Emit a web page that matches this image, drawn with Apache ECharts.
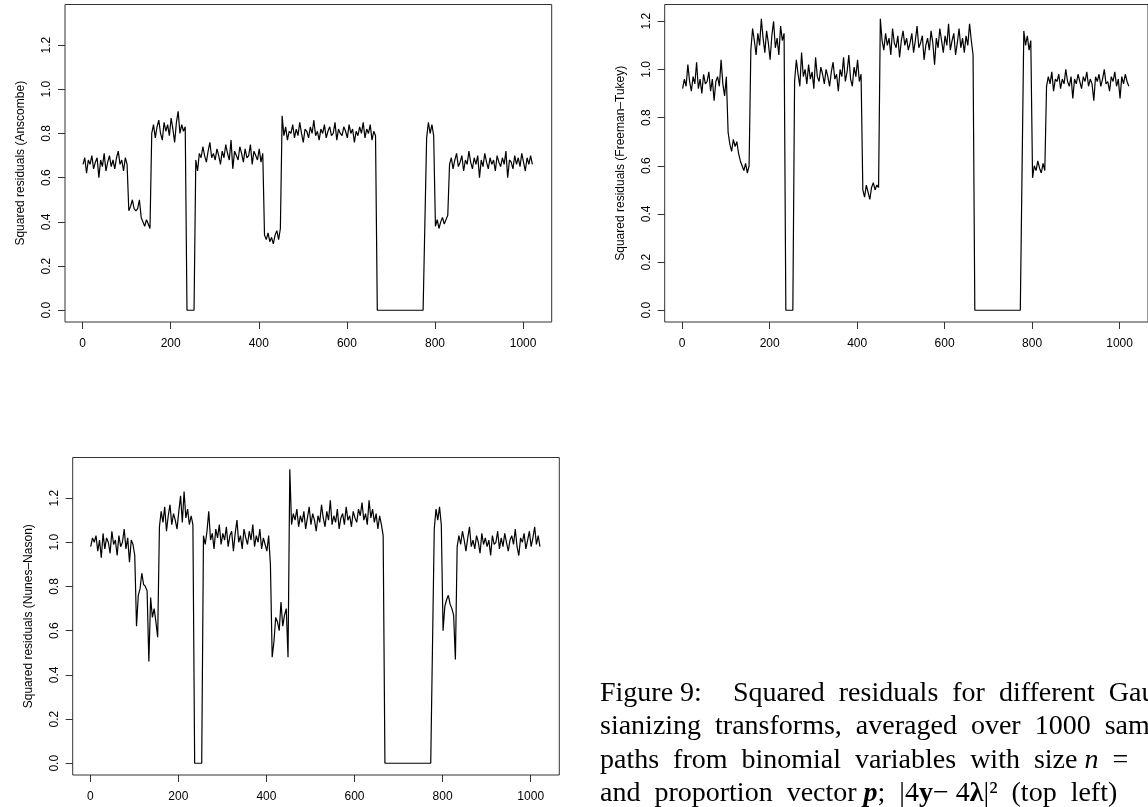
<!DOCTYPE html>
<html>
<head>
<meta charset="utf-8">
<script src="https://cdn.jsdelivr.net/npm/echarts@6/dist/echarts.min.js"></script>
<style>
html,body{margin:0;padding:0;background:#fff;}
#chart{width:1148px;height:807px;}
</style>
</head>
<body>
<div id="chart"></div>
<script>
// x position (sample index) where each segment of values starts; values are every 4th index
const segStarts = [1, 105, 133, 157, 237, 257, 413, 453, 669, 781, 801, 833];
const xTicks = [0, 200, 400, 600, 800, 1000];
const yTicks = [0, 0.2, 0.4, 0.6, 0.8, 1.0, 1.2];
const yTitles = ['Squared residuals (Anscombe)', 'Squared residuals (Freeman\u2013Tukey)', 'Squared residuals (Nunes\u2013Nason)'];

const anscombe = [
  [0.66,0.69,0.62,0.68,0.66,0.70,0.64,0.67,0.69,0.60,0.68,0.65,0.71,0.63,0.67,0.70,0.65,0.68,0.64,0.69,0.72,0.66,0.68,0.63,0.69,0.66],
  [0.45,0.47,0.50,0.46,0.45,0.46,0.50],
  [0.42,0.40,0.38,0.41,0.39,0.37],
  [0.80,0.84,0.78,0.83,0.86,0.80,0.77,0.85,0.81,0.84,0.79,0.87,0.82,0.76,0.85,0.90,0.80,0.84,0.81,0.83],
  [0,0,0,0,0],
  [0.68,0.63,0.71,0.69,0.74,0.70,0.67,0.72,0.76,0.69,0.71,0.68,0.73,0.70,0.66,0.72,0.69,0.75,0.71,0.68,0.77,0.64,0.72,0.70,0.68,0.74,0.71,0.67,0.73,0.69,0.70,0.75,0.66,0.72,0.70,0.68,0.73,0.67,0.71],
  [0.34,0.32,0.35,0.31,0.33,0.30,0.34,0.36,0.32,0.37],
  [0.88,0.79,0.83,0.77,0.81,0.80,0.84,0.78,0.82,0.79,0.85,0.80,0.76,0.82,0.81,0.78,0.83,0.80,0.86,0.79,0.81,0.77,0.82,0.80,0.84,0.78,0.81,0.83,0.79,0.80,0.85,0.77,0.82,0.80,0.79,0.83,0.81,0.78,0.84,0.80,0.82,0.76,0.81,0.79,0.83,0.80,0.85,0.78,0.82,0.80,0.84,0.77,0.81,0.79],
  [0,0,0,0,0,0,0,0,0,0,0,0,0,0,0,0,0,0,0,0,0,0,0,0,0,0,0,0],
  [0.78,0.85,0.80,0.84,0.79],
  [0.38,0.41,0.37,0.40,0.42,0.39,0.41,0.43],
  [0.66,0.69,0.64,0.68,0.71,0.65,0.67,0.70,0.63,0.68,0.66,0.72,0.67,0.64,0.69,0.66,0.70,0.60,0.68,0.65,0.71,0.67,0.64,0.69,0.66,0.68,0.63,0.70,0.67,0.65,0.69,0.66,0.72,0.60,0.68,0.67,0.64,0.70,0.66,0.69,0.65,0.71,0.67,0.63,0.69,0.66,0.70,0.66]
];

const freemanTukey = [
  [0.92,0.96,0.93,1.02,0.95,0.91,0.97,0.94,1.03,0.92,0.96,0.90,0.98,0.94,0.95,0.99,0.91,0.96,0.87,0.95,0.97,0.93,1.04,0.94,0.89,0.97],
  [0.74,0.69,0.66,0.71,0.68,0.70,0.65],
  [0.62,0.60,0.58,0.61,0.57,0.60],
  [1.08,1.17,1.12,1.06,1.15,1.10,1.21,1.13,1.07,1.16,1.11,1.04,1.14,1.20,1.09,1.13,1.06,1.18,1.12,1.15],
  [0,0,0,0,0],
  [0.95,1.04,0.98,0.93,1.07,0.97,1.00,0.94,1.02,0.96,0.99,0.92,1.05,0.97,0.95,1.01,0.98,0.94,1.00,0.97,0.93,0.99,1.03,0.96,0.98,0.91,1.00,0.97,1.05,0.95,0.99,1.06,0.96,0.93,1.01,0.97,1.04,0.95,0.98],
  [0.50,0.47,0.52,0.49,0.46,0.51,0.53,0.50,0.52,0.51],
  [1.21,1.12,1.08,1.15,1.10,1.13,1.06,1.17,1.11,1.09,1.14,1.05,1.12,1.16,1.10,1.13,1.08,1.11,1.15,1.07,1.12,1.18,1.09,1.11,1.14,1.04,1.10,1.13,1.08,1.16,1.11,1.02,1.13,1.09,1.17,1.12,1.07,1.14,1.10,1.19,1.08,1.12,1.15,1.06,1.11,1.17,1.09,1.13,1.07,1.14,1.10,1.19,1.12,1.06],
  [0,0,0,0,0,0,0,0,0,0,0,0,0,0,0,0,0,0,0,0,0,0,0,0,0,0,0,0],
  [1.16,1.10,1.14,1.08,1.12],
  [0.55,0.60,0.58,0.62,0.59,0.57,0.61,0.58],
  [0.93,0.97,0.94,0.99,0.91,0.96,0.95,0.98,0.92,0.96,0.94,1.00,0.95,0.93,0.97,0.88,0.96,0.94,0.98,0.95,0.92,0.97,0.95,0.99,0.93,0.96,0.94,0.87,0.97,0.95,0.98,0.93,0.96,1.00,0.94,0.95,0.91,0.97,0.95,0.99,0.93,0.96,0.88,0.97,0.94,0.98,0.95,0.93]
];

const nunesNason = [
  [0.98,1.02,1.00,1.03,0.96,1.01,0.93,1.04,0.97,1.02,1.00,0.95,1.05,0.99,1.01,0.94,1.03,0.98,1.00,1.06,0.97,1.02,0.91,1.01,0.99,0.94],
  [0.62,0.76,0.79,0.86,0.81,0.80,0.78],
  [0.46,0.75,0.66,0.70,0.64,0.57],
  [1.07,1.14,1.09,1.16,1.05,1.12,1.17,1.08,1.13,1.10,1.06,1.14,1.21,1.09,1.23,1.11,1.15,1.08,1.12,1.08],
  [0,0,0,0,0],
  [1.03,0.99,1.05,1.14,1.01,1.04,0.97,1.06,1.02,1.08,0.99,1.04,1.01,1.07,0.98,1.03,1.05,0.96,1.04,1.10,1.00,1.03,0.97,1.06,1.02,0.99,1.05,1.01,1.08,0.98,1.03,1.00,1.06,0.97,1.02,0.99,0.96,1.03,0.90],
  [0.48,0.55,0.66,0.64,0.60,0.73,0.62,0.67,0.70,0.48],
  [1.33,1.08,1.13,1.10,1.15,1.07,1.12,1.09,1.14,1.06,1.11,1.16,1.08,1.13,1.10,1.05,1.12,1.09,1.17,1.11,1.07,1.14,1.10,1.19,1.08,1.12,1.09,1.15,1.06,1.11,1.13,1.08,1.16,1.10,1.12,1.07,1.14,1.11,1.09,1.15,1.12,1.18,1.10,1.13,1.08,1.19,1.11,1.15,1.09,1.13,1.06,1.12,1.08,1.03],
  [0,0,0,0,0,0,0,0,0,0,0,0,0,0,0,0,0,0,0,0,0,0,0,0,0,0,0,0],
  [1.06,1.15,1.10,1.16,1.08],
  [0.60,0.71,0.74,0.76,0.72,0.70,0.67,0.47],
  [0.98,1.03,0.99,1.05,1.01,0.96,1.02,1.07,0.98,1.01,0.97,1.03,1.00,0.95,1.04,0.99,1.02,0.98,1.01,0.94,1.03,0.99,1.00,1.05,0.97,1.02,0.98,1.04,1.00,0.96,1.01,1.03,0.99,1.06,0.98,0.94,1.02,1.00,1.04,0.97,1.01,1.05,0.98,1.02,1.07,0.99,1.03,0.98]
];

function toPoints(segs) {
  const out = [];
  segs.forEach((s, k) => s.forEach((v, j) => out.push([segStarts[k] + 4 * j, v])));
  return out;
}

const FONT = 'Liberation Sans, Arial, Helvetica, sans-serif';
const SERIF = '"Liberation Serif", "Times New Roman", Times, serif';

const grids = [
  {left: 65, top: 4.5, width: 486.7, height: 317.5},
  {left: 664.7, top: 4.5, width: 486.4, height: 317.5},
  {left: 72.7, top: 457.5, width: 486.6, height: 317.5}
];
const yRanges = [[-0.0532, 1.3836], [-0.0488, 1.2697], [-0.0532, 1.3836]];

function xAxis(gi) {
  return {
    type: 'value', gridIndex: gi, min: -39.92, max: 1064.92,
    axisLine: {show: false, onZero: false}, splitLine: {show: false},
    axisTick: {show: true, length: 7, customValues: xTicks, lineStyle: {color: '#333', width: 1}},
    axisLabel: {customValues: xTicks, margin: 16, color: '#000', fontSize: 12, fontFamily: FONT,
      formatter: v => String(v)}
  };
}
function yAxis(gi) {
  return {
    type: 'value', gridIndex: gi, min: yRanges[gi][0], max: yRanges[gi][1],
    axisLine: {show: false, onZero: false}, splitLine: {show: false},
    axisTick: {show: true, length: 7, customValues: yTicks, lineStyle: {color: '#333', width: 1}},
    axisLabel: {customValues: yTicks, rotate: 90, margin: 12, color: '#000', fontSize: 12, fontFamily: FONT,
      formatter: v => v.toFixed(1)},
    name: yTitles[gi], nameLocation: 'middle', nameRotate: 90, nameGap: 38,
    nameTextStyle: {color: '#000', fontSize: 12, fontFamily: FONT}
  };
}

const seriesData = [anscombe, freemanTukey, nunesNason];

const capFont = 28;
const baseRich = {fontSize: capFont, fontFamily: SERIF, fill: '#000'};
const rich = {
  r: Object.assign({}, baseRich),
  i: Object.assign({}, baseRich, {fontStyle: 'italic'}),
  bi: Object.assign({}, baseRich, {fontStyle: 'italic', fontWeight: 'bold'}),
  b: Object.assign({}, baseRich, {fontWeight: 'bold'})
};
const capLines = [
  {y: 694, text: '{r|Figure 9:}'},
  {y: 694, x: 733, text: '{r|Squared  residuals  for  different  Gaus-}'},
  {y: 727, text: '{r|sianizing  transforms,  averaged  over  1000  sample}'},
  {y: 761, text: '{r|paths  from  binomial  variables  with  size }{i|n}{r|  =}'},
  {y: 794, text: '{r|and  proportion  vector }{bi|p}{r|;  |4}{b|y}{r|\u2212 4}{b|\u03bb}{r||\u00b2  (top  left)}'}
];

const chart = echarts.init(document.getElementById('chart'), null, {renderer: 'canvas'});
chart.setOption({
  animation: false,
  backgroundColor: '#fff',
  grid: grids.map(g => Object.assign({show: true, borderColor: '#333', borderWidth: 1, backgroundColor: 'transparent', containLabel: false}, g)),
  xAxis: [0, 1, 2].map(xAxis),
  yAxis: [0, 1, 2].map(yAxis),
  series: seriesData.map((d, gi) => ({
    type: 'line', xAxisIndex: gi, yAxisIndex: gi, data: toPoints(d),
    symbol: 'none', showSymbol: false, silent: true,
    lineStyle: {color: '#000', width: 1.2}
  })),
  graphic: capLines.map(l => ({
    type: 'text', x: l.x || 600, y: l.y,
    style: {text: l.text, rich: rich, verticalAlign: 'middle', align: 'left', fontSize: capFont, fontFamily: SERIF, fill: '#000'}
  }))
});
</script>
</body>
</html>
